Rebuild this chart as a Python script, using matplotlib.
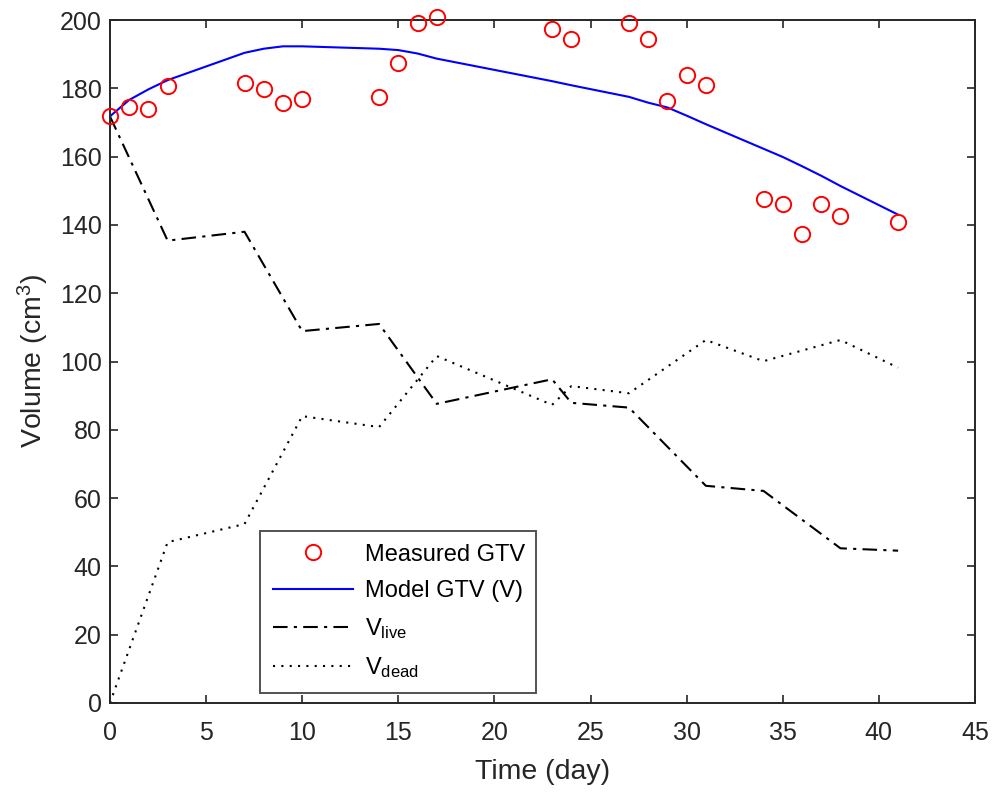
import numpy as np
import matplotlib
matplotlib.use("Agg")
import matplotlib.pyplot as plt

# measured GTV (cm^3) by day
days = [0, 1, 2, 3, 7, 8, 9, 10, 14, 15, 16, 17, 23, 24, 27, 28, 29, 30, 31, 34, 35, 36, 37, 38, 41]
measured = [171.8, 174.6, 174.0, 180.6, 181.6, 179.9, 175.8, 176.9, 177.5, 187.5, 199.1, 201.0,
            197.5, 194.4, 199.2, 194.4, 176.4, 183.9, 181.0, 147.7, 146.0, 137.2, 146.0, 142.5, 140.8]
# model GTV at the same days
model = [171.8, 176.6, 179.7, 182.4, 190.4, 191.6, 192.3, 192.3, 191.6, 191.2, 190.2, 188.7,
         182.1, 180.9, 177.5, 175.8, 174.4, 172.0, 169.5, 162.3, 159.9, 157.2, 154.4, 151.4, 143.0]

# live / dead compartments
comp_days = [0, 3, 7, 10, 14, 17, 23, 24, 27, 31, 34, 38, 41]
v_live = [171.8, 135.4, 138.0, 108.9, 111.0, 87.6, 94.8, 87.9, 86.5, 63.6, 62.1, 45.3, 44.6]
v_dead = [0.0, 47.1, 52.4, 84.0, 80.8, 101.6, 87.3, 92.8, 90.7, 106.3, 100.1, 106.3, 98.2]

plt.rcParams['font.family'] = ['Liberation Sans', 'DejaVu Sans']
plt.rcParams['mathtext.fontset'] = 'custom'
plt.rcParams['mathtext.rm'] = 'Liberation Sans'
plt.rcParams['mathtext.it'] = 'Liberation Sans'

fig = plt.figure(figsize=(9.96, 7.92), dpi=100)
ax = fig.add_axes([0.1104, 0.1124, 0.8685, 0.8623])

ax.plot(days, measured, 'o', linestyle='none', markerfacecolor='none', markeredgecolor='red',
        markersize=11, markeredgewidth=1.4, label='Measured GTV', clip_on=False, zorder=4)
ax.plot(days, model, '-', color='blue', linewidth=1.5, label='Model GTV (V)')
ax.plot(comp_days, v_live, color='black', linewidth=1.5, dashes=(7, 3, 1.5, 3), label=r'V$_{\mathrm{live}}$')
ax.plot(comp_days, v_dead, color='black', linewidth=1.5, linestyle=(0, (1, 3)), label=r'V$_{\mathrm{dead}}$')

ax.set_xlim(0, 45)
ax.set_ylim(0, 200)
ax.set_xticks(np.arange(0, 46, 5))
ax.set_yticks(np.arange(0, 201, 20))
ax.tick_params(direction='in', top=True, right=True, length=6, width=1.2, colors='#262626',
               labelsize=18, pad=6)
ax.tick_params(axis='x', pad=13)
for s in ax.spines.values():
    s.set_linewidth(1.4)
    s.set_color('#262626')

ax.set_xlabel('Time (day)', fontsize=20.5, color='#262626', labelpad=10)
ax.set_ylabel(r'Volume (cm$^3$)', fontsize=20.5, color='#262626', labelpad=6)

leg = ax.legend(loc='lower left', bbox_to_anchor=(0.173, 0.0146, 0.32, 0.24), mode='expand',
                borderaxespad=0, fontsize=17, handlelength=3.4, handletextpad=0.5, frameon=True,
                fancybox=False, edgecolor='#262626', labelspacing=0.6, borderpad=0.55)
leg.get_frame().set_linewidth(1.4)

fig.savefig('out.png', dpi=100)
